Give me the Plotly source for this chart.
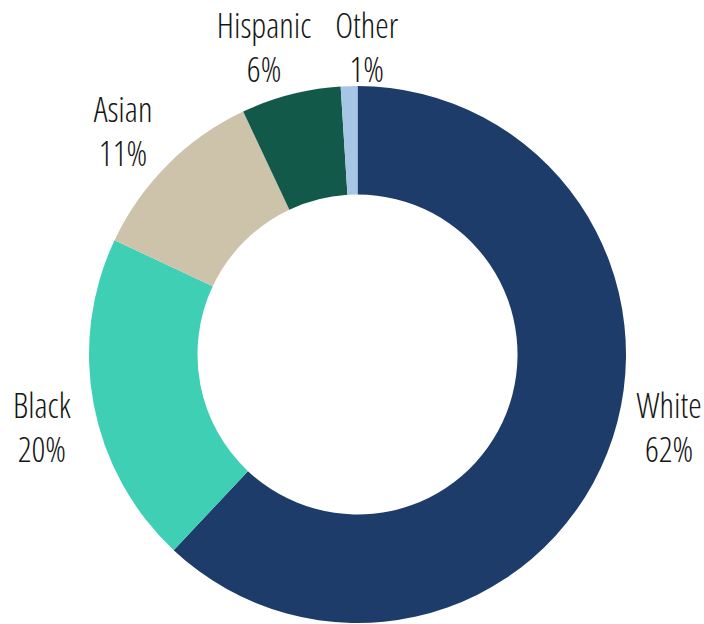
import plotly.graph_objects as go

groups = ["White", "Black", "Asian", "Hispanic", "Other"]
shares = [62, 20, 11, 6, 1]
colors = ["#1e3c69", "#3ecfb4", "#cdc3aa", "#12594a", "#a7c5e4"]

# label anchor points (paper coords) for each group's caption
label_x = [669, 42, 123, 264, 366]
label_y = [427, 427, 131, 47, 47]

W, H = 704, 624
total = sum(shares)

fig = go.Figure(
    go.Pie(
        labels=groups,
        values=shares,
        hole=0.596,
        sort=False,
        direction="clockwise",
        rotation=0,
        marker=dict(colors=colors, line=dict(width=0)),
        textinfo="none",
        showlegend=False,
        hoverinfo="label+percent",
        domain=dict(x=[89 / W, 626 / W], y=[1 / H, 538 / H]),
    )
)

for g, v, lx, ly in zip(groups, shares, label_x, label_y):
    fig.add_annotation(
        x=lx / W,
        y=1 - ly / H,
        xref="paper",
        yref="paper",
        xanchor="center",
        yanchor="middle",
        text=f"{g}<br>{round(100 * v / total)}%",
        showarrow=False,
        align="center",
        font=dict(family="Open Sans", size=34, color="#151515", weight=300),
    )

fig.update_layout(
    width=W,
    height=H,
    margin=dict(l=0, r=0, t=0, b=0),
    paper_bgcolor="white",
    plot_bgcolor="white",
)

# condensed face for the captions
squeeze = """
var gd = document.getElementById('{plot_id}');
function squeeze() {
  gd.querySelectorAll('.annotation-text').forEach(function (t) {
    t.style.fontStretch = '75%';
  });
}
squeeze();
gd.on('plotly_afterplot', squeeze);
"""

fig.write_html("out.html", post_script=squeeze)
